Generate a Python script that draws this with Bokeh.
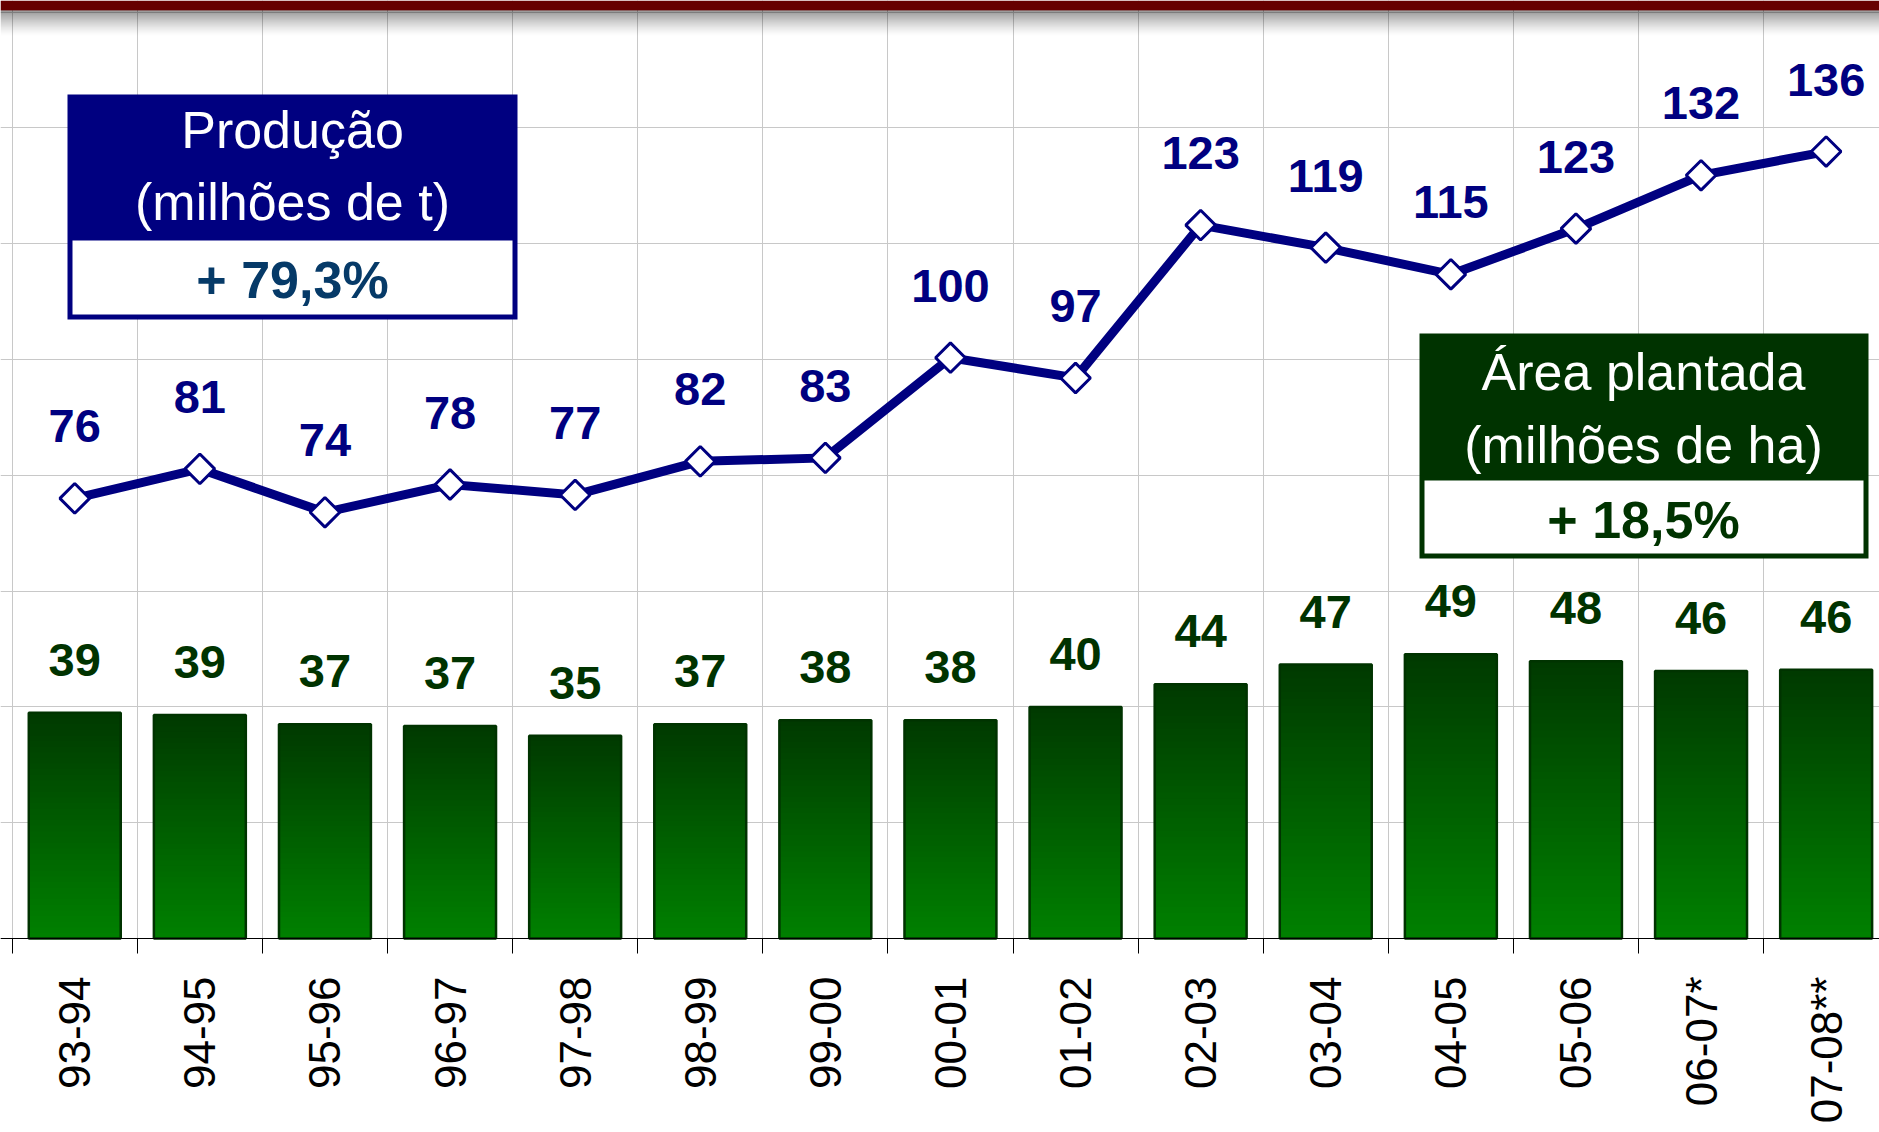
import numpy as np
from bokeh.plotting import figure
from bokeh.models import Range1d, LinearAxis, FixedTicker, Grid, BoxAnnotation, Label
from bokeh.core.properties import value
from bokeh.embed import file_html
from bokeh.resources import INLINE

# ---------------- data ----------------
seasons = ["93-94", "94-95", "95-96", "96-97", "97-98", "98-99", "99-00", "00-01",
           "01-02", "02-03", "03-04", "04-05", "05-06", "06-07*", "07-08**"]
producao = [76.0, 81.1, 73.6, 78.4, 76.6, 82.4, 83.0, 100.3, 96.8, 123.2, 119.3,
            114.7, 122.6, 131.8, 135.9]          # milhões de t
area = [39.0, 38.6, 37.0, 36.7, 35.0, 37.0, 37.7, 37.7, 40.0, 43.9, 47.3, 49.1,
        47.9, 46.2, 46.4]                         # milhões de ha
y_ticks = [0, 20, 40, 60, 80, 100, 120, 140, 160]
prod_title = ["Produção", "(milhões de t)", "+ 79,3%"]
area_title = ["Área plantada", "(milhões de ha)", "+ 18,5%"]

FONT = "Liberation Sans"
NAVY = "#000080"
DKGREEN = "#003300"

# ---------------- geometry (page pixels, figure at page origin) ----------------
W, H = 1879, 1132
PX_X = 125.1                 # px per category
PX_Y = 926.5 / 160.0         # px per unit
AXIS_PY = 938                # page y of the value 0
LEFT_PX = 11.7               # page x of the first category boundary
x_start = -0.5 - LEFT_PX / PX_X
x_end = x_start + W / PX_X
y_end = AXIS_PY / PX_Y
y_start = -(H - AXIS_PY) / PX_Y


def X(px):
    return x_start + px / PX_X


def Y(py):
    return (AXIS_PY - py) / PX_Y


n = len(seasons)
xc = list(range(n))

p = figure(width=W, height=H, output_backend="svg", toolbar_location=None,
           x_range=Range1d(x_start, x_end), y_range=Range1d(y_start, y_end),
           x_axis_location=None, y_axis_location=None,
           min_border_left=0, min_border_right=0, min_border_top=0,
           min_border_bottom=0, outline_line_color=None,
           background_fill_color="white", border_fill_color="white")
p.xgrid.visible = False
p.ygrid.visible = False

boundaries = [i - 0.5 for i in range(n + 1)]
p.add_layout(Grid(dimension=0, ticker=FixedTicker(ticks=boundaries),
                  grid_line_color="#c8c8c8", grid_line_width=1))
p.add_layout(Grid(dimension=1, ticker=FixedTicker(ticks=y_ticks),
                  grid_line_color="#c8c8c8", grid_line_width=1))
# blank the area under the category axis
p.add_layout(BoxAnnotation(top=0, fill_color="white", fill_alpha=1, line_color=None,
                           level="underlay"))

xaxis = LinearAxis(ticker=FixedTicker(ticks=xc, minor_ticks=boundaries),
                   fixed_location=0,
                   major_label_overrides={i: s for i, s in enumerate(seasons)},
                   major_label_orientation=np.pi / 2,
                   major_tick_out=0, major_tick_in=0,
                   minor_tick_out=15, minor_tick_in=0,
                   minor_tick_line_color="black", axis_line_color="black",
                   major_label_text_font=FONT, major_label_text_font_size="44px",
                   major_label_text_color="black", major_label_standoff=23)
p.add_layout(xaxis, "below")

# ---------------- bars with vertical gradient ----------------
N = 40
top_rgb = np.array([0, 58, 0])
bot_rgb = np.array([0, 128, 0])
bx, bb, bt, bc = [], [], [], []
for i, v in enumerate(area):
    for k in range(N):
        f = k / (N - 1)
        c = bot_rgb + (top_rgb - bot_rgb) * f
        bx.append(i)
        bb.append(v * k / N)
        bt.append(min(v, v * (k + 1.6) / N))
        bc.append("#%02x%02x%02x" % tuple(int(round(t)) for t in c))
p.vbar(x=bx, bottom=bb, top=bt, width=0.735, fill_color=bc, line_color=None)
p.vbar(x=xc, top=area, width=0.735, fill_color=None, line_color=DKGREEN, line_width=2.5)

# ---------------- production line ----------------
p.line(xc, producao, line_color=NAVY, line_width=9, line_join="miter")
p.scatter(xc, producao, marker="square", angle=np.pi / 4, size=21,
          fill_color="white", line_color=NAVY, line_width=3)

# ---------------- value labels ----------------
p.text(x=xc, y=producao, text=[f"{v:.0f}" for v in producao], y_offset=-72,
       text_align="center", text_baseline="middle", text_font=value(FONT),
       text_font_style="bold", text_font_size="47px", text_color=NAVY)
p.text(x=xc, y=area, text=[f"{v:.0f}" for v in area], y_offset=-53,
       text_align="center", text_baseline="middle", text_font=value(FONT),
       text_font_style="bold", text_font_size="47px", text_color=DKGREEN)

# ---------------- top band ----------------
p.add_layout(BoxAnnotation(bottom=Y(10), fill_color="#660000", fill_alpha=1, line_color=None))
for j in range(26):
    a = 0.45 * (1 - j / 26.0) ** 1.5
    p.add_layout(BoxAnnotation(top=Y(10 + j), bottom=Y(11 + j), fill_color="black",
                               fill_alpha=a, line_color=None))

# ---------------- info boxes ----------------
def info_box(l, r, t, b, hb, color, lines, cx, ys, pct_color):
    p.add_layout(BoxAnnotation(left=X(l), right=X(r), top=Y(t), bottom=Y(b),
                               fill_color=color, fill_alpha=1, line_color=None))
    p.add_layout(BoxAnnotation(left=X(l + 5), right=X(r - 5), top=Y(hb), bottom=Y(b - 5),
                               fill_color="white", fill_alpha=1, line_color=None))
    for k, (txt, yy) in enumerate(zip(lines, ys)):
        bold = k == 2
        p.add_layout(Label(x=X(cx), y=Y(yy), text=txt, text_align="center",
                           text_baseline="middle", text_font=FONT,
                           text_font_size="52px",
                           text_font_style="bold" if bold else "normal",
                           text_color=pct_color if bold else "white"))


info_box(67, 517, 94, 319, 240, NAVY, prod_title, 292, [129, 201, 279], "#063a68")
info_box(1419, 1868, 333, 558, 480, DKGREEN, area_title, 1643, [371, 444, 519], DKGREEN)

open("out.html", "w").write(file_html(p, INLINE))
